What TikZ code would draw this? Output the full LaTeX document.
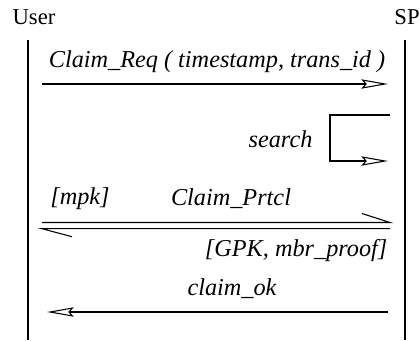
\documentclass[tikz,border=0pt]{standalone}
\usepackage{fontspec}
\setmainfont{Liberation Serif}
\usetikzlibrary{positioning}
\usetikzlibrary{arrows.meta}
\tikzset{
	x=0.75pt, y=-0.75pt,
	every node/.style={font=\fontsize{17}{20}\selectfont, inner sep=1pt},
	lifeline/.style={line width=1.1pt},
	msg/.style={ % messages between the parties
			line width=0.8pt,
			-{Stealth[open, length=20pt, width=7pt, inset=3pt]}
		},
	barb/.style={line width=0.8pt},
	lbl/.style={font=\fontsize{18.2}{21}\selectfont\itshape}
}
\begin{document}
\begin{tikzpicture}
	\useasboundingbox (0,0) rectangle (420,340);
	% parties
	\node (user) at (34,17) {User};
	\node (sp) at (407,17) {SP};
	\coordinate (userTop) at (28,40);
	\coordinate (userBot) at (28,340);
	\coordinate (spTop) at (405,40);
	\coordinate (spBot) at (405,340);
	\draw[lifeline] (userTop) -- (userBot);
	\draw[lifeline] (spTop) -- (spBot);

	% claim request
	\coordinate (reqA) at (42,84);
	\coordinate (reqB) at (388,84);
	\node[lbl] (req) at (217,62) {Claim\_Req ( timestamp, trans\_id )};
	\draw[msg] (reqA) -- (reqB);

	% search
	\coordinate (srchA) at (390,115);
	\coordinate (srchB) at (388,161);
	\node[lbl, anchor=east] (srch) at (314,139) {search};
	\draw[msg] (srchA) -- ++(-60,0) |- (srchB);

	% protocol
	\node[lbl] (mpk) at (80,199) {[mpk]};
	\node[lbl] (prtcl) at (231,199) {Claim\_Prtcl};
	\coordinate (prtA) at (42,222.5);
	\coordinate (prtB) at (390,222.5);
	\coordinate (prtC) at (390,228.7);
	\coordinate (prtD) at (42,228.7);
	\draw[barb] (prtA) -- (prtB) -- ++(-28,-9);
	\draw[barb] (prtC) -- (prtD) -- ++(30,8);
	\node[lbl, anchor=east] (gpk) at (389,251) {[GPK, mbr\_proof]};

	% claim ok
	\node[lbl] (ok) at (232,289) {claim\_ok};
	\coordinate (okA) at (388,312);
	\coordinate (okB) at (47,312);
	\draw[msg] (okA) -- (okB);
\end{tikzpicture}
\end{document}
